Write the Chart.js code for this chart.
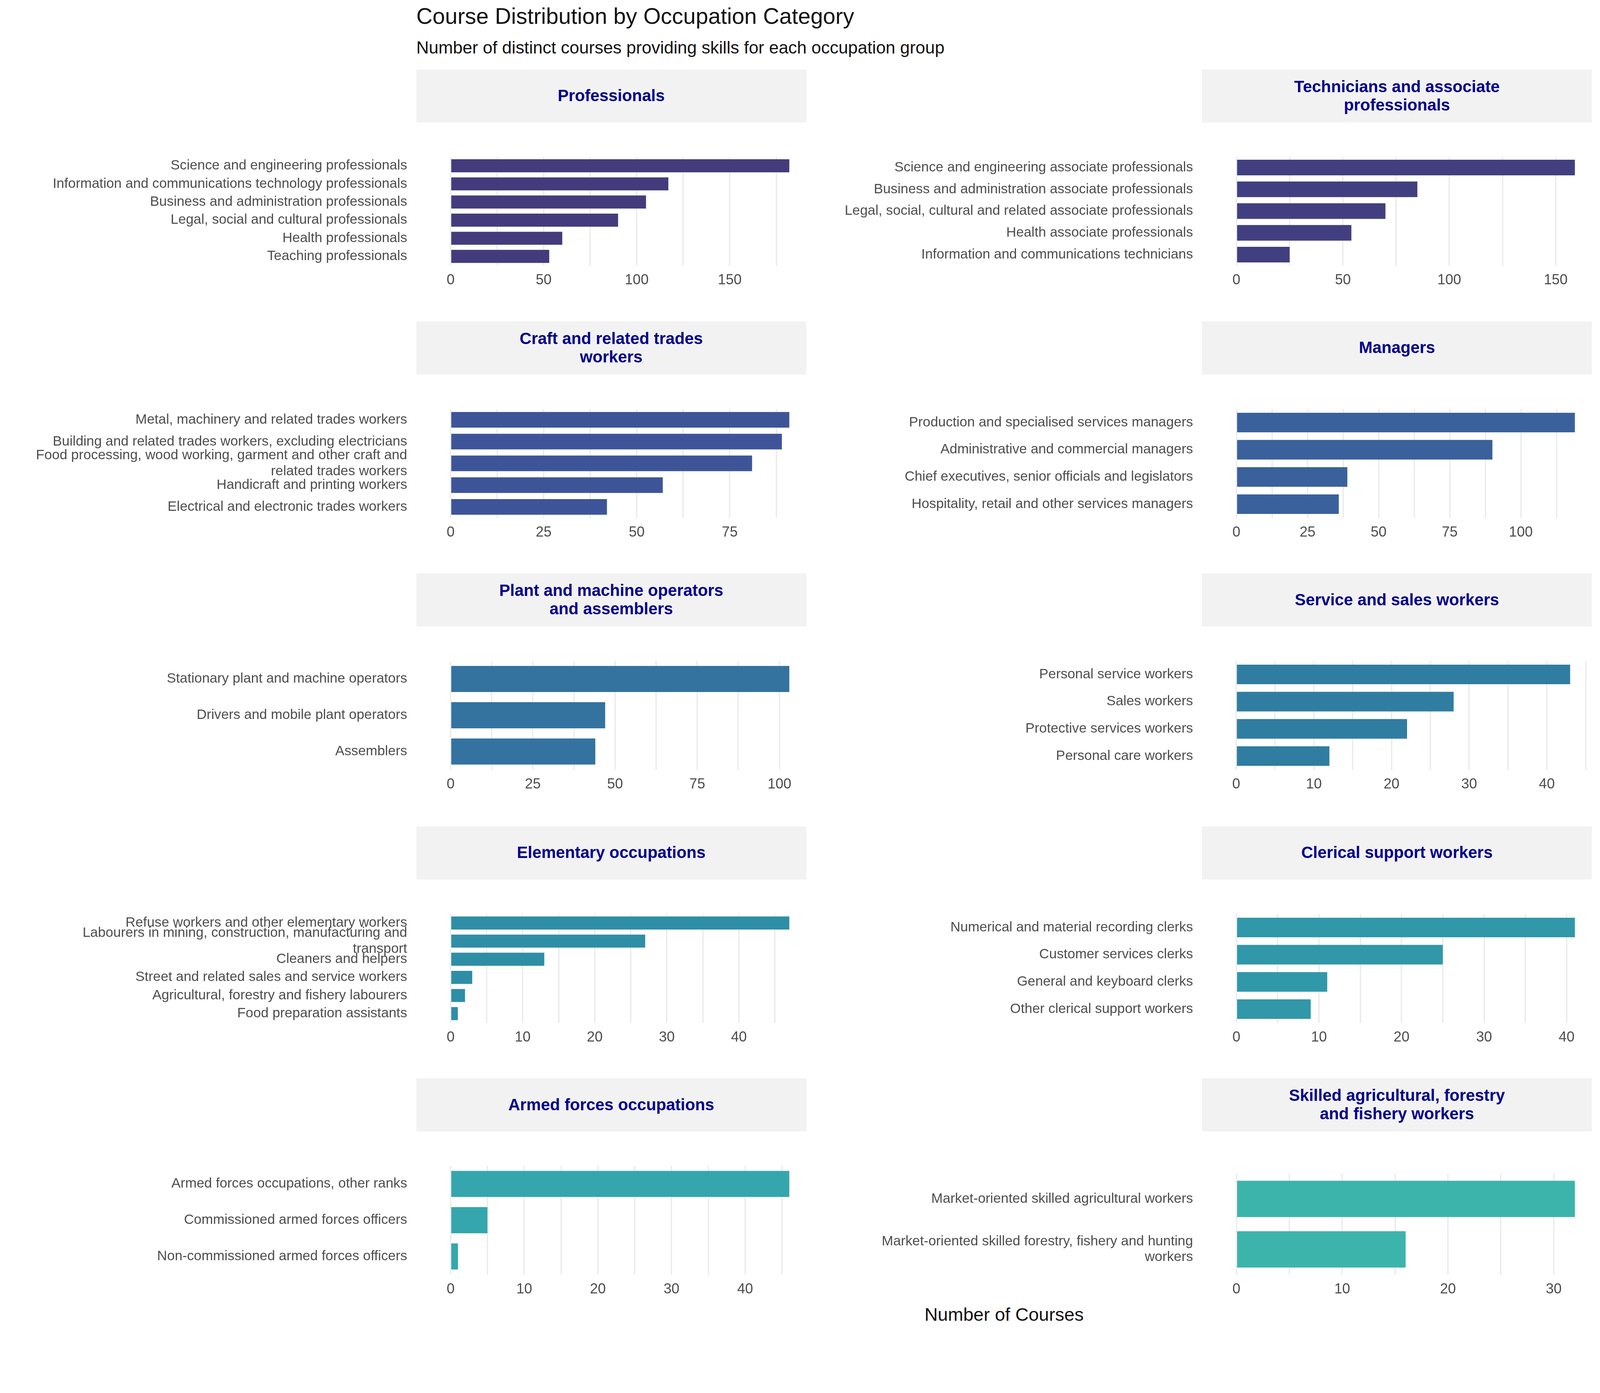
<!DOCTYPE html>
<html lang="en">
<head>
<meta charset="UTF-8">
<title>Course Distribution by Occupation Category</title>
<script src="https://cdn.jsdelivr.net/npm/chart.js"></script>
<style>
  html, body { margin: 0; background: #fff; font-family: 'Liberation Sans', Arial, sans-serif; overflow: hidden; }
  #page { position: relative; overflow: hidden; }
  .abs { position: absolute; }
  .strip { background: #f2f2f2; color: #00008b; font-weight: bold; display: flex; align-items: center; justify-content: center; text-align: center; line-height: 1.12; }
</style>
</head>
<body>
<div id="page"></div>
<script>
// chart data, one panel per occupation group
const panelTitles = ['Professionals', 'Technicians and associate\nprofessionals', 'Craft and related trades\nworkers', 'Managers',
  'Plant and machine operators\nand assemblers', 'Service and sales workers', 'Elementary occupations', 'Clerical support workers',
  'Armed forces occupations', 'Skilled agricultural, forestry\nand fishery workers'];

const profLabels = ['Science and engineering professionals', 'Information and communications technology professionals', 'Business and administration professionals', 'Legal, social and cultural professionals', 'Health professionals', 'Teaching professionals'];
const profValues = [182, 117, 105, 90, 60, 53];

const techLabels = ['Science and engineering associate professionals', 'Business and administration associate professionals', 'Legal, social, cultural and related associate professionals', 'Health associate professionals', 'Information and communications technicians'];
const techValues = [159, 85, 70, 54, 25];

const craftLabels = ['Metal, machinery and related trades workers', 'Building and related trades workers, excluding electricians', ['Food processing, wood working, garment and other craft and', 'related trades workers'], 'Handicraft and printing workers', 'Electrical and electronic trades workers'];
const craftValues = [91, 89, 81, 57, 42];

const mgrLabels = ['Production and specialised services managers', 'Administrative and commercial managers', 'Chief executives, senior officials and legislators', 'Hospitality, retail and other services managers'];
const mgrValues = [119, 90, 39, 36];

const plantLabels = ['Stationary plant and machine operators', 'Drivers and mobile plant operators', 'Assemblers'];
const plantValues = [103, 47, 44];

const serviceLabels = ['Personal service workers', 'Sales workers', 'Protective services workers', 'Personal care workers'];
const serviceValues = [43, 28, 22, 12];

const elemLabels = ['Refuse workers and other elementary workers', ['Labourers in mining, construction, manufacturing and', 'transport'], 'Cleaners and helpers', 'Street and related sales and service workers', 'Agricultural, forestry and fishery labourers', 'Food preparation assistants'];
const elemValues = [47, 27, 13, 3, 2, 1];

const clericalLabels = ['Numerical and material recording clerks', 'Customer services clerks', 'General and keyboard clerks', 'Other clerical support workers'];
const clericalValues = [41, 25, 11, 9];

const armedLabels = ['Armed forces occupations, other ranks', 'Commissioned armed forces officers', 'Non-commissioned armed forces officers'];
const armedValues = [46, 5, 1];

const agriLabels = ['Market-oriented skilled agricultural workers', ['Market-oriented skilled forestry, fishery and hunting', 'workers']];
const agriValues = [32, 16];

const panelLabels = [profLabels, techLabels, craftLabels, mgrLabels, plantLabels, serviceLabels, elemLabels, clericalLabels, armedLabels, agriLabels];
const panelValues = [profValues, techValues, craftValues, mgrValues, plantValues, serviceValues, elemValues, clericalValues, armedValues, agriValues];
const panelSteps = [50, 50, 25, 25, 25, 10, 10, 10, 10, 10];
const panelColors = ['#443b7c', '#423f80', '#3d5598', '#3a619b', '#34729f', '#2f7da1', '#2e8ea6', '#3098a9', '#35a6ad', '#3db4ab'];

// layout in reference-view units (1568 wide), scaled to the real window
const S = (window.innerWidth || 4284) / 1568;
const page = document.getElementById('page');
page.style.width = (1568 * S) + 'px';
page.style.height = (1306 * S) + 'px';
const FONT = "'Liberation Sans', Arial, sans-serif";

function box(cls, x, y, w, h) {
  const d = document.createElement('div');
  d.className = 'abs ' + cls;
  d.style.left = (x * S) + 'px'; d.style.top = (y * S) + 'px';
  if (w) d.style.width = (w * S) + 'px';
  if (h) d.style.height = (h * S) + 'px';
  page.appendChild(d);
  return d;
}

let t = box('', 408, 3);
t.textContent = 'Course Distribution by Occupation Category';
t.style.fontSize = (22 * S) + 'px'; t.style.color = '#111';
t = box('', 408, 37);
t.textContent = 'Number of distinct courses providing skills for each occupation group';
t.style.fontSize = (17 * S) + 'px'; t.style.color = '#111';
t = box('', 884, 1278, 200);
t.textContent = 'Number of Courses';
t.style.fontSize = (18 * S) + 'px'; t.style.textAlign = 'center'; t.style.color = '#111';

const rowTops = [68, 315, 562, 810, 1057];

panelTitles.forEach((title, i) => {
  const col = i % 2, row = Math.floor(i / 2);
  const stripX = col ? 1178 : 408;
  const canvasX = col ? 790 : 0;
  const top = rowTops[row];

  const st = box('strip', stripX, top, 382, 52);
  st.style.fontSize = (16 * S) + 'px';
  st.innerText = title;

  const wPx = Math.round((stripX + 382 - canvasX) * S);
  const hPx = Math.round(174 * S);
  const cv = document.createElement('canvas');
  cv.className = 'abs';
  cv.width = wPx; cv.height = hPx;
  cv.style.width = wPx + 'px'; cv.style.height = hPx + 'px';
  cv.style.left = (canvasX * S) + 'px'; cv.style.top = ((top + 52) * S) + 'px';
  page.appendChild(cv);

  const vals = panelValues[i];
  const maxV = Math.max(...vals);
  const step = panelSteps[i];
  const yWidth = (stripX + 17 - canvasX) * S;

  new Chart(cv, {
    type: 'bar',
    data: {
      labels: panelLabels[i],
      datasets: [{ data: vals, backgroundColor: panelColors[i], barPercentage: 0.72, categoryPercentage: 1 }]
    },
    options: {
      indexAxis: 'y',
      responsive: false,
      devicePixelRatio: 1,
      animation: false,
      layout: { padding: 0 },
      plugins: { legend: { display: false }, tooltip: { enabled: false } },
      scales: {
        x: {
          min: -0.05 * maxV, max: 1.05 * maxV,
          afterBuildTicks: ax => {
            const ticks = [];
            for (let v = 0; v <= ax.max; v += step / 2) ticks.push({ value: v });
            ax.ticks = ticks;
          },
          afterFit: ax => { ax.height = 28 * S; },
          ticks: {
            autoSkip: false, maxRotation: 0,
            color: '#4d4d4d', font: { family: FONT, size: 14 * S }, padding: 6 * S,
            callback: v => (v % step === 0 ? v : '')
          },
          grid: { color: '#ebebeb', lineWidth: 1.3 * S, drawTicks: false },
          border: { display: false }
        },
        y: {
          afterFit: ax => { ax.width = yWidth; },
          ticks: { autoSkip: false, color: '#4d4d4d', font: { family: FONT, size: 13.5 * S, lineHeight: 1.15 }, padding: 26 * S },
          grid: { display: false, drawTicks: false },
          border: { display: false }
        }
      }
    }
  });
});
</script>
</body>
</html>
